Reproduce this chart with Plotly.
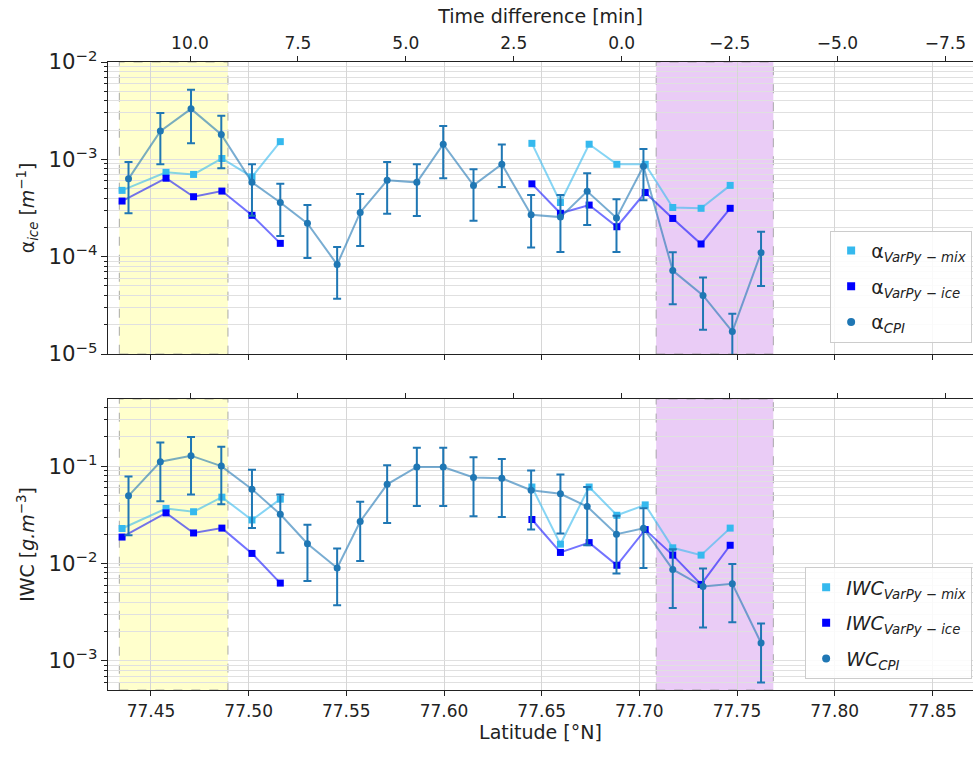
import plotly.graph_objects as go
import numpy as np

# ---------------- data ----------------
lat_cpi = [77.4385, 77.4548, 77.4705, 77.4860, 77.5017, 77.5162, 77.5301, 77.5453,
           77.5571, 77.5709, 77.5861, 77.5996, 77.6151, 77.6296, 77.6446, 77.6596,
           77.6733, 77.6883, 77.7021, 77.7171, 77.7326, 77.7476, 77.7623]

alpha_cpi = [6.3e-4, 1.95e-3, 3.3e-3, 1.8e-3, 5.8e-4, 3.6e-4, 2.2e-4, 8.3e-5,
             2.85e-4, 6.1e-4, 5.8e-4, 1.43e-3, 5.4e-4, 8.9e-4, 2.7e-4, 2.55e-4,
             4.7e-4, 2.5e-4, 8.5e-4, 7.2e-5, 4.0e-5, 1.7e-5, 1.1e-4]
alpha_cpi_hi = [9.4e-4, 3.0e-3, 5.2e-3, 2.8e-3, 8.9e-4, 5.6e-4, 3.4e-4, 1.26e-4,
                4.4e-4, 9.4e-4, 8.9e-4, 2.2e-3, 7.9e-4, 1.42e-3, 4.3e-4, 4.3e-4,
                7.2e-4, 3.9e-4, 1.28e-3, 1.11e-4, 6.1e-5, 2.6e-5, 1.8e-4]
alpha_cpi_lo = [2.8e-4, 8.9e-4, 1.46e-3, 8.1e-4, 2.64e-4, 1.63e-4, 9.7e-5, 3.7e-5,
                1.29e-4, 2.76e-4, 2.61e-4, 6.4e-4, 2.34e-4, 5.2e-4, 1.24e-4, 1.12e-4,
                2.11e-4, 1.12e-4, 3.8e-4, 3.24e-5, 1.78e-5, 7.5e-6, 5.0e-5]

lat_varpy = [77.4352, 77.4577, 77.4718, 77.4863, 77.5017, 77.5162, None,
             77.6450, 77.6596, 77.6743, 77.6885, 77.7030, 77.7171, 77.7316, 77.7465]
alpha_mix = [4.8e-4, 7.35e-4, 7.0e-4, 1.02e-3, 6.6e-4, 1.52e-3, None,
             1.46e-3, 3.6e-4, 1.43e-3, 8.9e-4, 8.9e-4, 3.2e-4, 3.14e-4, 5.4e-4]
alpha_ice = [3.73e-4, 6.4e-4, 4.13e-4, 4.72e-4, 2.66e-4, 1.37e-4, None,
             5.6e-4, 2.79e-4, 3.39e-4, 2.03e-4, 4.56e-4, 2.47e-4, 1.35e-4, 3.14e-4]

iwc_cpi = [4.95e-2, 0.111, 0.128, 0.100, 5.8e-2, 3.2e-2, 1.6e-2, 9.0e-3,
           2.7e-2, 6.5e-2, 9.8e-2, 9.8e-2, 7.65e-2, 7.5e-2, 5.65e-2, 5.2e-2,
           3.85e-2, 2.0e-2, 2.3e-2, 8.7e-3, 5.8e-3, 6.2e-3, 1.53e-3]
iwc_cpi_hi = [7.8e-2, 0.175, 0.199, 0.158, 9.2e-2, 5.1e-2, 2.5e-2, 1.43e-2,
              4.3e-2, 0.102, 0.154, 0.154, 0.123, 0.118, 9.0e-2, 8.2e-2,
              6.1e-2, 3.1e-2, 3.7e-2, 1.4e-2, 8.9e-3, 9.9e-3, 2.43e-3]
iwc_cpi_lo = [1.95e-2, 4.37e-2, 5.1e-2, 4.07e-2, 2.32e-2, 1.29e-2, 6.6e-3, 3.73e-3,
              1.06e-2, 2.61e-2, 3.9e-2, 3.9e-2, 3.06e-2, 3.0e-2, 2.23e-2, 2.03e-2,
              1.54e-2, 7.9e-3, 9.0e-3, 3.5e-3, 2.2e-3, 2.5e-3, 6.0e-4]

iwc_mix = [2.29e-2, 3.67e-2, 3.4e-2, 4.8e-2, 2.8e-2, 4.58e-2, None,
           6.1e-2, 1.58e-2, 6.1e-2, 3.13e-2, 4.0e-2, 1.45e-2, 1.22e-2, 2.31e-2]
iwc_ice = [1.87e-2, 3.31e-2, 2.06e-2, 2.31e-2, 1.27e-2, 6.3e-3, None,
           2.83e-2, 1.30e-2, 1.64e-2, 9.6e-3, 2.23e-2, 1.22e-2, 6.1e-3, 1.54e-2]

yellow_span = [77.4338, 77.4894]
purple_span = [77.7086, 77.7686]

lat_range = [77.428, 77.8708]
time_range = [11.90, -8.14]
lat_ticks = [77.45, 77.50, 77.55, 77.60, 77.65, 77.70, 77.75, 77.80, 77.85]
time_ticks = [10.0, 7.5, 5.0, 2.5, 0.0, -2.5, -5.0, -7.5]

# ---------------- styles ----------------
FONT = "DejaVu Sans"
C_MIX = "#35b9ee"
C_ICE = "#0000ff"
C_CPI = "#1f77b4"
L_MIX = "rgba(53,185,238,0.6)"
L_ICE = "rgba(0,0,255,0.55)"
L_CPI = "rgba(31,119,180,0.6)"
GRID = "#d6d6d6"
MINORGRID = "#e0e0e0"
AX = "#222222"

fig = go.Figure()


def add_panel(xa, ya, xt, mix, ice, cpi, hi, lo, legend, names):
    cpi_a = np.array(cpi)
    plus = np.array(hi) - cpi_a
    minus = cpi_a - np.array(lo)
    fig.add_trace(go.Scatter(x=lat_varpy, y=mix, mode="lines+markers", xaxis=xa, yaxis=ya,
                             marker=dict(symbol="square", size=7, color=C_MIX),
                             line=dict(color=L_MIX, width=2), showlegend=False,
                             connectgaps=False))
    fig.add_trace(go.Scatter(x=lat_varpy, y=ice, mode="lines+markers", xaxis=xa, yaxis=ya,
                             marker=dict(symbol="square", size=7, color=C_ICE),
                             line=dict(color=L_ICE, width=2), showlegend=False,
                             connectgaps=False))
    fig.add_trace(go.Scatter(x=lat_cpi, y=cpi, mode="lines+markers", xaxis=xa, yaxis=ya,
                             marker=dict(symbol="circle", size=7, color=C_CPI),
                             line=dict(color=L_CPI, width=2),
                             error_y=dict(type="data", array=plus, arrayminus=minus,
                                          color=C_CPI, thickness=2, width=4),
                             showlegend=False))
    # invisible trace so the top (time) axis is drawn
    fig.add_trace(go.Scatter(x=[None], y=[None], xaxis=xt, yaxis=ya, mode="markers",
                             showlegend=False, hoverinfo="skip"))
    # legend entries (markers only, like the reference)
    for k, (nm, col, sym) in enumerate(zip(names, [C_MIX, C_ICE, C_CPI],
                                           ["square", "square", "circle"])):
        fig.add_trace(go.Scatter(x=[None], y=[None], mode="markers", xaxis=xa, yaxis=ya,
                                 marker=dict(symbol=sym, size=8, color=col),
                                 name=nm, legend=legend, legendgroup=legend + str(k),
                                 showlegend=True))


add_panel("x", "y", "x2", alpha_mix, alpha_ice, alpha_cpi, alpha_cpi_hi, alpha_cpi_lo,
          "legend",
          ["α<sub><i>VarPy − mix</i></sub>", "α<sub><i>VarPy − ice</i></sub>",
           "α<sub><i>CPI</i></sub>"])
add_panel("x3", "y2", "x4", iwc_mix, iwc_ice, iwc_cpi, iwc_cpi_hi, iwc_cpi_lo, "legend2",
          ["<i>IWC<sub>VarPy − mix</sub></i>", "<i>IWC<sub>VarPy − ice</sub></i>",
           "<i>WC<sub>CPI</sub></i>"])

# shaded regions
shapes = []
for xref, yref in [("x", "y domain"), ("x3", "y2 domain")]:
    for span, fc in [(yellow_span, "rgba(255,255,0,0.2)"), (purple_span, "rgba(148,0,211,0.2)")]:
        shapes.append(dict(type="rect", xref=xref, yref=yref, x0=span[0], x1=span[1],
                           y0=0, y1=1, fillcolor=fc, layer="below",
                           line=dict(color="rgba(150,150,150,0.8)", dash="dash", width=1)))

tickfont = dict(family=FONT, size=17, color="#222")
titlefont = dict(family=FONT, size=19, color="#222")
common_x = dict(range=lat_range, tickvals=lat_ticks, tickformat=".2f", ticks="outside",
                ticklen=5, tickcolor=AX, showline=True, linecolor=AX, linewidth=1.2,
                showgrid=True, gridcolor=GRID, gridwidth=1, zeroline=False, tickfont=tickfont)
common_t = dict(range=time_range, tickvals=time_ticks, tickformat=".1f", ticks="outside",
                ticklen=5, tickcolor=AX, showline=True, linecolor=AX, linewidth=1.2,
                showgrid=False, zeroline=False, side="top", tickfont=tickfont)
common_y = dict(type="log", dtick=1, exponentformat="power", showexponent="all",
                ticks="outside", ticklen=6, tickcolor=AX, showline=True, linecolor=AX,
                linewidth=1.2, showgrid=True, gridcolor=MINORGRID, gridwidth=1,
                zeroline=False, tickfont=tickfont,
                minor=dict(dtick="D1", ticks="outside", ticklen=3, tickcolor=AX,
                           showgrid=True, gridcolor=MINORGRID, gridwidth=1))

legend_common = dict(x=0.999, xanchor="right", yanchor="bottom",
                     bgcolor="rgba(255,255,255,0.85)", bordercolor="#cccccc", borderwidth=1,
                     font=dict(family=FONT, size=19, color="#222"), tracegroupgap=8,
                     itemsizing="trace")

fig.update_layout(
    width=974, height=758,
    margin=dict(l=108, r=1, t=62, b=68),
    paper_bgcolor="white", plot_bgcolor="white",
    font=dict(family=FONT, size=17, color="#222"),
    shapes=shapes,
    xaxis=dict(common_x, domain=[0, 1], anchor="y", showticklabels=False),
    xaxis2=dict(common_t, overlaying="x", anchor="y",
                title=dict(text="Time difference [min]", font=titlefont, standoff=4)),
    xaxis3=dict(common_x, domain=[0, 1], anchor="y2", showticklabels=True,
                title=dict(text="Latitude [°N]", font=titlefont, standoff=6)),
    xaxis4=dict(common_t, overlaying="x3", anchor="y2", showticklabels=False),
    yaxis=dict(common_y, domain=[0.535, 1], range=[-5, -2], anchor="x",
               title=dict(text="α<sub><i>ice</i></sub> [<i>m</i><sup>−1</sup>]",
                          font=titlefont, standoff=8)),
    yaxis2=dict(common_y, domain=[0, 0.4634], range=[-3.298, -0.311], anchor="x3",
                title=dict(text="IWC [<i>g.m</i><sup>−3</sup>]",
                           font=titlefont, standoff=8)),
    legend=dict(legend_common, y=0.553),
    legend2=dict(legend_common, y=0.017),
    showlegend=True,
)

fig.write_html("out.html")
